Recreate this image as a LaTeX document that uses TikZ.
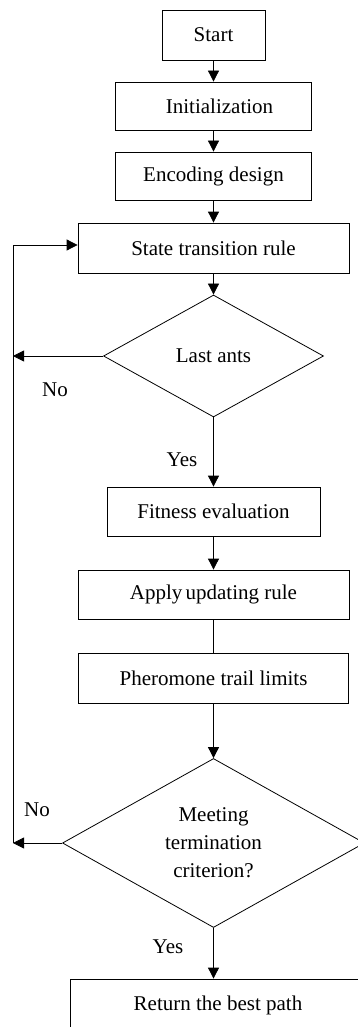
\documentclass[tikz,border=0pt]{standalone}
\usepackage{fontspec}
\setmainfont{Liberation Serif}
\usetikzlibrary{shapes.geometric,arrows.meta}
\begin{document}
\begin{tikzpicture}[x=1pt,y=-1pt,>={Triangle[length=11pt,width=11pt]},
 line width=0.8pt, font=\fontsize{21}{27}\selectfont,
 box/.style={draw,rectangle,inner sep=0pt,align=center},
 test/.style={draw,diamond,inner sep=0pt,align=center}]
 \clip (0,0) rectangle (358,1027);
 \node[box,minimum width=103pt,minimum height=50pt] (start) at (213.5,35) {Start};
 \node[box,minimum width=196pt,minimum height=48pt] (init) at (213.5,106) {\hspace{12pt}Initialization};
 \node[box,minimum width=196pt,minimum height=48pt] (enc) at (213.5,176) {Encoding design};
 \node[box,minimum width=271pt,minimum height=50pt] (state) at (213.5,248) {State transition rule};
 \node[test,minimum width=220pt,minimum height=122pt] (last) at (213.5,356) {Last ants};
 \node[box,minimum width=213pt,minimum height=49pt] (fit) at (213.5,511.5) {Fitness evaluation};
 \node[box,minimum width=271pt,minimum height=49pt] (upd) at (213.5,594.5) {Apply\hspace{-2pt} updating rule};
 \node[box,minimum width=270pt,minimum height=50pt] (pher) at (213.5,678) {Pheromone trail limits};
 \node[test,minimum width=302pt,minimum height=169pt,font=\fontsize{21}{28}\selectfont] (term) at (213.5,843) {Meeting\\termination\\criterion?};
 \node[box,minimum width=296pt,minimum height=52pt] (best) at (218,1005) {Return the best path};
 \coordinate (loopb) at (13,843);
 \coordinate (loopt) at (13,245);
 % main flow
 \draw[->] (start) -- (init);
 \draw[->] (init) -- (enc);
 \draw[->] (enc) -- (state);
 \draw[->] (state) -- (last);
 \draw[->] (last) -- (fit);
 \draw[->] (fit) -- (upd);
 \draw (upd) -- (pher);
 \draw[->] (pher) -- (term);
 \draw[->] (term.south) -- (term.south |- best.north);
 % back loop
 \draw[->] (last.west) -- (last.west -| loopb);
 \draw[->] (term.west) -- (loopb);
 \draw[->] (loopb) -- (loopt) -- (loopt -| state.west);
 \node (no1) at (55,390) {No};
 \node (yes1) at (182,460) {Yes};
 \node (no2) at (37,810) {No};
 \node (yes2) at (168,947) {Yes};
\end{tikzpicture}
\end{document}
